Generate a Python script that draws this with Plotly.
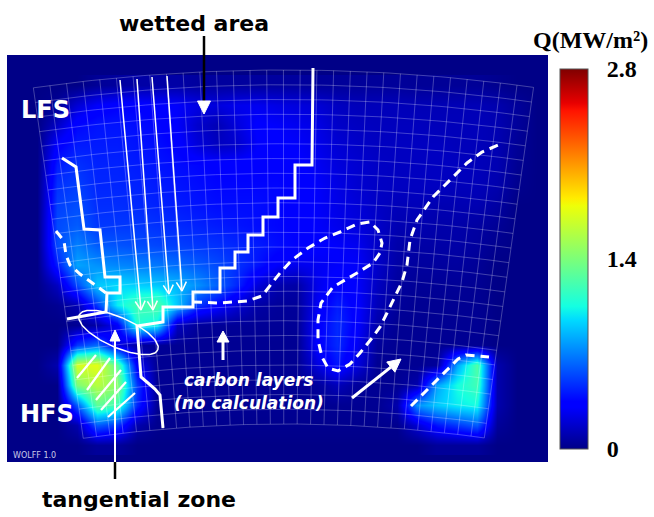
import numpy as np
import plotly.graph_objects as go

W, H = 654, 517

# ---------------------------------------------------------------------------
# Heat-flux samples Q (MW/m²) on a regular lattice of image positions
# ---------------------------------------------------------------------------
x_px = [17, 37, 57, 77, 97, 117, 137, 157, 177, 197, 217, 237, 257, 277,
        297, 317, 337, 357, 377, 397, 417, 437, 457, 477, 497, 517, 537]
y_px = [85, 105, 125, 145, 165, 185, 205, 225, 245, 265, 285, 305, 325,
        345, 365, 385, 405, 425, 445]

q_085 = [0, 0, 0, 0, .04, .06, .08, .08, .08, .06, .06, .06, .06, .06, .06, .05, .05, .05, .05, .05, .04, .04, .04, .04, .02, 0, 0]
q_105 = [0, 0, .04, .2, .3, .34, .34, .32, .3, .24, .22, .26, .27, .24, .22, .2, .15, .13, .13, .13, .12, .12, .12, .12, .1, .05, 0]
q_125 = [0, 0, .16, .36, .4, .4, .38, .36, .3, .18, .12, .22, .32, .3, .27, .24, .17, .15, .14, .14, .14, .13, .13, .13, .11, .05, 0]
q_145 = [0, 0, .32, .42, .42, .42, .4, .38, .34, .22, .15, .18, .3, .32, .3, .26, .2, .17, .15, .15, .15, .15, .13, .13, .11, .04, 0]
q_165 = [0, 0, .42, .48, .44, .44, .42, .4, .38, .36, .34, .34, .34, .34, .32, .28, .22, .19, .16, .15, .15, .15, .15, .13, .11, .03, 0]
q_185 = [0, 0, .48, .52, .45, .45, .44, .42, .4, .38, .36, .36, .36, .36, .34, .3, .24, .19, .16, .15, .15, .15, .13, .13, .1, .02, 0]
q_205 = [0, 0, .52, .56, .47, .47, .46, .44, .42, .4, .38, .38, .38, .36, .34, .3, .25, .21, .16, .13, .13, .11, .11, .11, .07, 0, 0]
q_225 = [0, 0, .55, .6, .5, .5, .5, .48, .46, .44, .42, .4, .38, .36, .34, .3, .26, .22, .17, .11, .11, .09, .09, .07, .04, 0, 0]
q_245 = [0, 0, .55, .7, .6, .58, .56, .54, .52, .5, .48, .45, .42, .38, .35, .32, .3, .27, .16, .09, .08, .08, .08, .06, .02, 0, 0]
q_265 = [0, 0, .42, .8, .75, .72, .7, .68, .65, .6, .55, .48, .4, .3, .26, .28, .3, .3, .17, .08, .06, .06, .06, .04, 0, 0, 0]
q_285 = [0, 0, .15, .55, .9, .95, .92, .9, .85, .75, .62, .45, .22, .1, .08, .26, .35, .3, .15, .06, .04, .04, .04, .03, 0, 0, 0]
q_305 = [0, 0, .03, .12, .5, 1.0, 1.2, 1.25, .9, .5, .35, .2, .08, .05, .05, .28, .42, .32, .13, .05, .03, .03, .03, .03, 0, 0, 0]
q_325 = [0, 0, 0, .03, .08, .3, 1.1, 1.0, .15, .05, .04, .04, .04, .04, .04, .32, .46, .32, .09, .03, .03, .03, .03, .03, 0, 0, 0]
q_345 = [0, 0, 0, .5, .65, .25, .06, .04, .03, .03, .03, .03, .03, .03, .03, .32, .46, .28, .05, .03, .03, .03, .03, .03, 0, 0, 0]
q_365 = [0, 0, .1, 1.7, 1.75, 1.3, .3, .03, .03, .03, .03, .03, .03, .03, .03, .22, .4, .22, .03, .03, .03, .05, .8, 1.25, .1, 0, 0]
q_385 = [0, 0, 0, 1.4, 1.6, 1.45, .5, .03, .03, .03, .03, .03, .03, .03, .03, .05, .13, .05, .03, .03, .1, .8, 1.05, 1.2, .1, 0, 0]
q_405 = [0, 0, 0, .6, 1.3, 1.2, .45, .03, .03, .03, .03, .03, .03, .03, .03, .03, .03, .03, .03, .1, .75, .9, 1.0, 1.05, .1, 0, 0]
q_425 = [0, 0, 0, .1, .6, .5, .1, .02, .02, .02, .02, .02, .02, .02, .02, .02, .02, .02, .02, .02, .2, .4, .5, .6, .05, 0, 0]
q_445 = [0, 0, 0, 0, .05, .05, 0, 0, 0, 0, 0, 0, 0, 0, 0, 0, 0, 0, 0, 0, 0, .05, .05, .05, 0, 0, 0]

q_rows = [q_085, q_105, q_125, q_145, q_165, q_185, q_205, q_225, q_245, q_265,
          q_285, q_305, q_325, q_345, q_365, q_385, q_405, q_425, q_445]

Q_MAX = 2.8
cbar_ticks = [0, 1.4, 2.8]
cbar_labels = ["0", "1.4", "2.8"]

NAVY = "rgb(0,0,135)"
jet = [
    [0.0, NAVY], [0.11, "rgb(0,0,255)"], [0.125, "rgb(0,0,255)"],
    [0.34, "rgb(0,219,255)"], [0.375, "rgb(20,255,226)"],
    [0.5, "rgb(124,255,121)"], [0.64, "rgb(238,255,8)"],
    [0.66, "rgb(255,236,0)"], [0.89, "rgb(255,19,0)"],
    [0.91, "rgb(232,0,0)"], [1.0, "rgb(128,0,0)"],
]

fig = go.Figure()

# dark frame of the camera view
fig.add_shape(type="rect", x0=7, x1=548, y0=55, y1=462,
              fillcolor=NAVY, line_width=0, layer="below")

fig.add_trace(go.Heatmap(
    x=x_px, y=y_px, z=q_rows, zmin=0, zmax=Q_MAX, zsmooth="best",
    colorscale=jet, hoverinfo="skip",
    colorbar=dict(
        x=560 / W, xanchor="left", y=1 - 69 / H, yanchor="top",
        len=380, lenmode="pixels", thickness=28, thicknessmode="pixels",
        xpad=0, ypad=0, outlinewidth=1, outlinecolor="#555",
        tickvals=cbar_ticks, ticktext=cbar_labels,
        ticks="outside", ticklen=14, tickcolor="rgba(0,0,0,0)",
        tickfont=dict(family="Liberation Serif", size=24, color="black", weight="bold"),
    ),
))

# ---------------------------------------------------------------------------
# Curved tile grid (annular sector)
# ---------------------------------------------------------------------------
cx, cy = 285.0, 1856.0
r_in, r_out = 1432.0, 1786.0
th_l, th_r = np.radians(-8.1), np.radians(8.0)
n_cols, n_rows = 30, 24
gx, gy = [], []
for th in np.linspace(th_l, th_r, n_cols + 1):
    rr = np.array([r_in, r_out])
    gx += list(cx + rr * np.sin(th)) + [None]
    gy += list(cy - rr * np.cos(th)) + [None]
for rr in np.linspace(r_in, r_out, n_rows + 1):
    th = np.linspace(th_l, th_r, 60)
    gx += list(cx + rr * np.sin(th)) + [None]
    gy += list(cy - rr * np.cos(th)) + [None]
fig.add_trace(go.Scatter(x=gx, y=gy, mode="lines", hoverinfo="skip",
                         line=dict(color="rgba(255,255,255,0.26)", width=1)))


def add_line(pts, width, color="white", dash=None):
    xs, ys = zip(*pts)
    fig.add_trace(go.Scatter(x=xs, y=ys, mode="lines", hoverinfo="skip",
                             line=dict(color=color, width=width, dash=dash,
                                       shape="linear")))


def head_points(tail, tip, length, width):
    (x0, y0), (x1, y1) = tail, tip
    d = np.hypot(x1 - x0, y1 - y0)
    ux, uy = (x1 - x0) / d, (y1 - y0) / d
    bx, by = x1 - ux * length, y1 - uy * length
    nx, ny = -uy, ux
    return (bx, by), [(bx + nx * width / 2, by + ny * width / 2), (x1, y1),
                      (bx - nx * width / 2, by - ny * width / 2)]


def solid_arrow(tail, tip, width, length, hw, color="white"):
    base, tri = head_points(tail, tip, length, hw)
    add_line([tail, base], width, color)
    xs, ys = zip(*(tri + [tri[0]]))
    fig.add_trace(go.Scatter(x=xs, y=ys, mode="lines", fill="toself",
                             fillcolor=color, hoverinfo="skip",
                             line=dict(color=color, width=1)))


def open_arrow(tail, tip, width, length, hw, color="white"):
    _, tri = head_points(tail, tip, length, hw)
    add_line([tail, tip], width, color)
    add_line(tri, width, color)


# staircase boundaries of the wetted area
add_line([(67, 319), (106, 312), (107, 293), (120, 293), (120, 277), (105, 277),
          (100, 230), (84, 229), (76, 167), (62, 158)], 3)
add_line([(313, 68), (312, 165), (295, 165), (295, 198), (278, 198), (278, 217),
          (263, 217), (263, 235), (248, 235), (248, 252), (235, 252), (235, 268),
          (220, 268), (220, 292), (193, 292), (193, 307), (163, 307), (163, 322),
          (137, 326), (141, 377), (155, 389), (160, 395), (163, 428)], 3)

# carbon layer contours
dash_style = "9px,6px"
add_line([(56, 231), (64, 241), (66, 255), (70, 265), (80, 274), (92, 283),
          (106, 293)], 3, dash=dash_style)
add_line([(193, 302), (220, 303), (247, 301), (262, 296), (272, 283), (280, 273),
          (292, 260), (308, 248), (325, 238), (340, 232), (357, 224), (370, 222),
          (378, 230), (382, 243), (380, 253), (373, 263), (357, 273), (333, 287),
          (321, 303), (318, 320), (318, 340), (322, 357), (328, 368), (338, 371),
          (350, 364), (360, 353), (372, 338), (380, 327), (387, 313), (394, 299),
          (402, 282), (407, 265), (410, 240), (417, 220), (433, 197), (450, 180),
          (467, 163), (482, 152), (503, 143)], 3, dash=dash_style)
add_line([(411, 406), (420, 397), (447, 370), (458, 359), (466, 355), (478, 356),
          (489, 357)], 3, dash=dash_style)

# field-line arrows onto the strike region
for tail, tip in [((120, 80), (141, 310)), ((137, 79), (153, 310)),
                  ((152, 77), (169, 294)), ((167, 76), (182, 291))]:
    open_arrow(tail, tip, 1.5, 9, 10)

# hatching of the HFS hot spot
for a, b in [((77, 378), (96, 355)), ((87, 390), (110, 358)), ((96, 400), (121, 370)),
             ((101, 410), (126, 382)), ((108, 417), (135, 393))]:
    add_line([a, b], 2.2)

# tangential zone ellipse
t = np.linspace(0, 2 * np.pi, 120)
ang = np.radians(24)
ex = 118.5 + 43 * np.cos(t) * np.cos(ang) - 15 * np.sin(t) * np.sin(ang)
ey = 332.5 + 43 * np.cos(t) * np.sin(ang) + 15 * np.sin(t) * np.cos(ang)
fig.add_trace(go.Scatter(x=ex, y=ey, mode="lines", hoverinfo="skip",
                         line=dict(color="white", width=1.5)))

# pointer arrows
solid_arrow((223, 360), (223, 331), 3, 11, 12)
solid_arrow((352, 398), (401, 359), 3, 13, 13)
solid_arrow((115, 462), (115, 330), 2, 11, 10)
add_line([(115, 462), (115, 479)], 2.5, color="black")
add_line([(204, 36), (204, 103)], 2.5, color="black")
_, tri = head_points((204, 90), (204, 114), 13, 13)
xs, ys = zip(*(tri + [tri[0]]))
fig.add_trace(go.Scatter(x=xs, y=ys, mode="lines", fill="toself", fillcolor="white",
                         hoverinfo="skip", line=dict(color="white", width=1)))

# ---------------------------------------------------------------------------
# Text
# ---------------------------------------------------------------------------
sans = "DejaVu Sans"
texts = [
    ("<b>wetted area</b>", 194, 23, 22, "black"),
    ("<b>tangential zone</b>", 139, 499, 22, "black"),
    ("<b>LFS</b>", 45, 110, 24, "white"),
    ("<b>HFS</b>", 47, 414, 24, "white"),
    ("<b><i>carbon layers</i></b>", 249, 380, 17, "white"),
    ("<b><i>(no calculation)</i></b>", 249, 403, 17, "white"),
    ("WOLFF 1.0", 34, 455, 8, "rgba(225,225,245,0.9)"),
]
for txt, x, y, size, col in texts:
    fig.add_annotation(x=x, y=y, text=txt, showarrow=False, xanchor="center",
                       yanchor="middle", font=dict(family=sans, size=size, color=col))
fig.add_annotation(x=590, y=40, text="<b>Q(MW/m²)</b>", showarrow=False,
                   xanchor="center", yanchor="middle",
                   font=dict(family="Liberation Serif", size=24, color="black"))

fig.update_layout(
    width=W, height=H, showlegend=False,
    margin=dict(l=0, r=0, t=0, b=0, pad=0, autoexpand=False),
    paper_bgcolor="white", plot_bgcolor="white",
    xaxis=dict(range=[0, W], visible=False, fixedrange=True),
    yaxis=dict(range=[H, 0], visible=False, fixedrange=True),
)

fig.write_html("out.html")
